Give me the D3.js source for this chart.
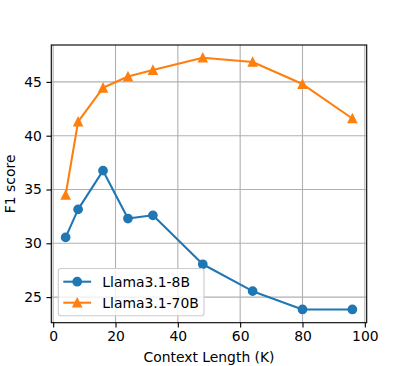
<!DOCTYPE html>
<html lang="en">
  <head>
    <meta charset="UTF-8" />
    <title>F1 score vs context length</title>
    <script src="https://cdn.jsdelivr.net/npm/d3@7"></script>
    <style>
      body {
        margin: 0;
        padding: 0;
        background: #fff;
      }
      text {
        font-family: 'DejaVu Sans', sans-serif;
        fill: #000;
      }
    </style>
  </head>

  <body>
    <svg width="408" height="366"></svg>

    <script>
      // data
      var contextLengths = [4, 8, 16, 24, 32, 48, 64, 80, 96]
      var llama8b = [30.55, 33.15, 36.75, 32.3, 32.6, 28.05, 25.55, 23.85, 23.85]
      var llama70b = [34.5, 41.3, 44.45, 45.5, 46.1, 47.25, 46.85, 44.8, 41.6]
      var xTicks = [0, 20, 40, 60, 80, 100]
      var yTicks = [25, 30, 35, 40, 45]
      var seriesNames = ['Llama3.1-8B', 'Llama3.1-70B']

      var box = { left: 51.3, right: 366.7, top: 45, bottom: 322.7 }
      var fs = 13.9
      var tickLen = 4.86
      var thin = 1.11 // 0.8pt
      var lineW = 2.08 // 1.5pt

      var svg = d3.select('svg')
      var g = svg.append('g')

      var xScale = d3.scaleLinear().domain([-0.6, 100.6]).range([box.left, box.right])
      var yScale = d3.scaleLinear().domain([22.62, 48.43]).range([box.bottom, box.top])

      // grid
      g.append('g')
        .selectAll('line')
        .data(xTicks)
        .enter()
        .append('line')
        .attr('x1', (d) => xScale(d))
        .attr('x2', (d) => xScale(d))
        .attr('y1', box.top)
        .attr('y2', box.bottom)
        .attr('stroke', '#b0b0b0')
        .attr('stroke-width', thin)
      g.append('g')
        .selectAll('line')
        .data(yTicks)
        .enter()
        .append('line')
        .attr('x1', box.left)
        .attr('x2', box.right)
        .attr('y1', (d) => yScale(d))
        .attr('y2', (d) => yScale(d))
        .attr('stroke', '#b0b0b0')
        .attr('stroke-width', thin)

      // axes
      var xAxis = d3.axisBottom(xScale).tickValues(xTicks).tickSize(tickLen).tickPadding(3.5)
      var yAxis = d3.axisLeft(yScale).tickValues(yTicks).tickSize(tickLen).tickPadding(4.5)

      var gx = g.append('g').attr('transform', `translate(0, ${box.bottom})`).call(xAxis)
      var gy = g.append('g').attr('transform', `translate(${box.left}, 0)`).call(yAxis)
      ;[gx, gy].forEach(function (a) {
        a.select('.domain').remove()
        a.selectAll('.tick line').attr('stroke', '#000').attr('stroke-width', thin)
        a.selectAll('.tick text').attr('font-size', fs).attr('fill', '#000')
      })

      // series
      var series = [
        { name: seriesNames[0], values: llama8b, color: '#1f77b4', marker: 'circle' },
        { name: seriesNames[1], values: llama70b, color: '#ff7f0e', marker: 'triangle' },
      ]

      var r = 4.17
      function drawMarker(sel, marker, color) {
        var m
        if (marker === 'circle') {
          m = sel.append('circle').attr('r', r)
        } else {
          m = sel.append('path').attr('d', `M0,${-r}L${-r},${r}L${r},${r}Z`)
        }
        m.attr('fill', color).attr('stroke', color).attr('stroke-width', 1.39)
      }

      var clip = svg.append('clipPath').attr('id', 'plotclip')
      clip.append('rect')
        .attr('x', box.left)
        .attr('y', box.top)
        .attr('width', box.right - box.left)
        .attr('height', box.bottom - box.top)

      var line = d3
        .line()
        .x((d, i) => xScale(contextLengths[i]))
        .y((d) => yScale(d))

      var plot = g.append('g').attr('clip-path', 'url(#plotclip)')
      series.forEach(function (s) {
        plot.append('path')
          .attr('d', line(s.values))
          .attr('fill', 'none')
          .attr('stroke', s.color)
          .attr('stroke-width', lineW)
          .attr('stroke-linejoin', 'round')
        s.values.forEach(function (v, i) {
          var m = plot
            .append('g')
            .attr('transform', `translate(${xScale(contextLengths[i])}, ${yScale(v)})`)
          drawMarker(m, s.marker, s.color)
        })
      })

      // frame
      g.append('rect')
        .attr('x', box.left)
        .attr('y', box.top)
        .attr('width', box.right - box.left)
        .attr('height', box.bottom - box.top)
        .attr('fill', 'none')
        .attr('stroke', '#000')
        .attr('stroke-width', thin)

      // axis labels
      g.append('text')
        .text('Context Length (K)')
        .attr('x', (box.left + box.right) / 2)
        .attr('y', 362)
        .attr('text-anchor', 'middle')
        .attr('font-size', fs)
      g.append('text')
        .text('F1 score')
        .attr('transform', `translate(14.5, ${(box.top + box.bottom) / 2}) rotate(-90)`)
        .attr('text-anchor', 'middle')
        .attr('font-size', fs)

      // legend
      var lg = g.append('g')
      lg.append('rect')
        .attr('x', 58.3)
        .attr('y', 268.5)
        .attr('width', 145.7)
        .attr('height', 47.2)
        .attr('rx', 2.8)
        .attr('fill', '#fff')
        .attr('fill-opacity', 0.8)
        .attr('stroke', '#cccccc')
        .attr('stroke-width', thin)
      var entries = lg
        .selectAll('.entry')
        .data(series)
        .enter()
        .append('g')
        .attr('transform', (d, i) => `translate(63.3, ${281.7 + i * 21})`)
      entries.append('line')
        .attr('x1', 0)
        .attr('x2', 27.8)
        .attr('stroke', (d) => d.color)
        .attr('stroke-width', lineW)
      entries.each(function (d) {
        var m = d3.select(this).append('g').attr('transform', 'translate(13.9, 0)')
        drawMarker(m, d.marker, d.color)
      })
      entries.append('text')
        .text((d) => d.name)
        .attr('x', 39)
        .attr('y', 5)
        .attr('font-size', fs)
    </script>
  </body>
</html>
